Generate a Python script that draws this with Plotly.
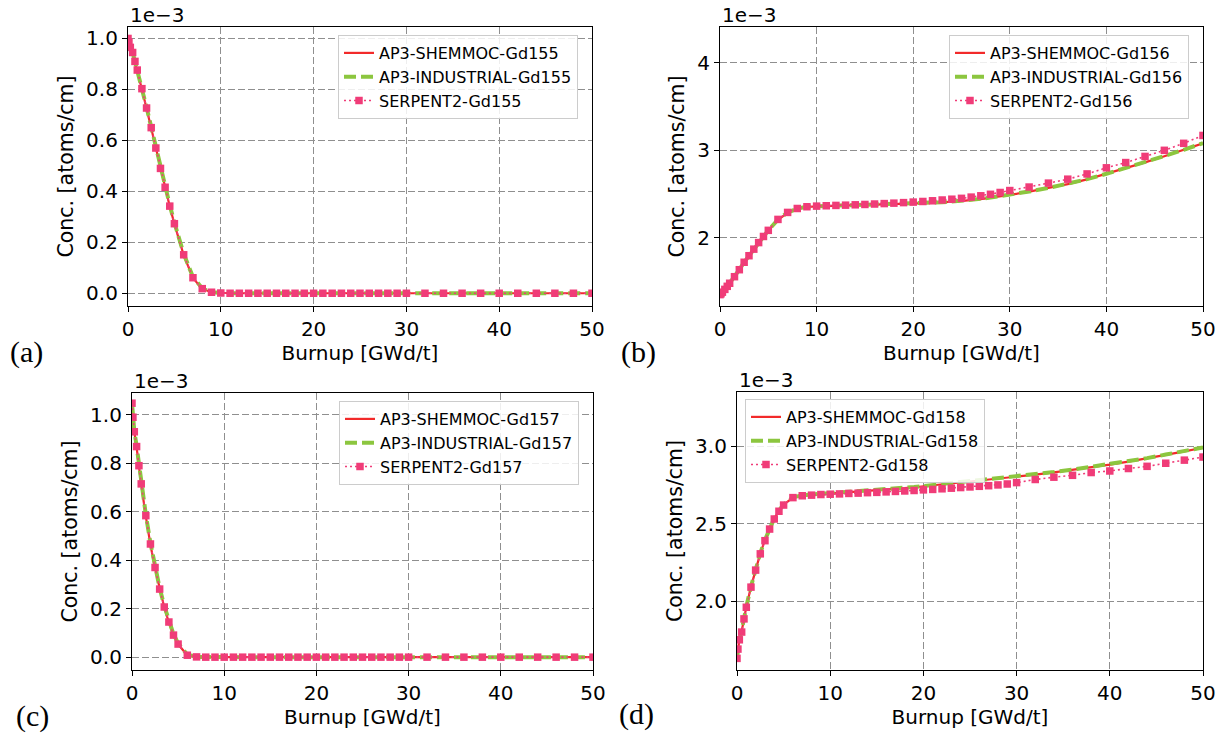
import plotly.graph_objects as go

W, H = 1228, 739

# Burnup steps [GWd/t]
burnup = [0, 0.1, 0.25, 0.5, 0.75, 1.0, 1.5, 2.0, 2.5, 3.0, 3.5, 4.0, 4.5, 5.0,
          6, 7, 8, 9, 10, 11, 12, 13, 14, 15, 16, 17, 18, 19, 20,
          21, 22, 23, 24, 25, 26, 27, 28, 29, 30,
          32, 34, 36, 38, 40, 42, 44, 46, 48, 50]

# Concentrations in units of 1e-3 atoms/cm
gd155_shemmoc = [1.000, 0.984, 0.963, 0.942, 0.908, 0.874, 0.801, 0.725, 0.648, 0.568, 0.489, 0.415,
                 0.341, 0.272, 0.150, 0.060, 0.017, 0.004, 0.001, 0, 0, 0, 0, 0, 0, 0, 0, 0, 0,
                 0, 0, 0, 0, 0, 0, 0, 0, 0, 0, 0, 0, 0, 0, 0, 0, 0, 0, 0, 0]
gd155_industrial = [1.000, 0.985, 0.965, 0.945, 0.911, 0.877, 0.805, 0.730, 0.653, 0.574, 0.494, 0.420,
                    0.346, 0.277, 0.155, 0.064, 0.019, 0.004, 0.001, 0, 0, 0, 0, 0, 0, 0, 0, 0, 0,
                    0, 0, 0, 0, 0, 0, 0, 0, 0, 0, 0, 0, 0, 0, 0, 0, 0, 0, 0, 0]
gd155_serpent = [1.000, 0.985, 0.965, 0.945, 0.910, 0.876, 0.803, 0.727, 0.650, 0.570, 0.490, 0.416,
                 0.342, 0.273, 0.151, 0.061, 0.018, 0.004, 0.001, 0, 0, 0, 0, 0, 0, 0, 0, 0, 0,
                 0, 0, 0, 0, 0, 0, 0, 0, 0, 0, 0, 0, 0, 0, 0, 0, 0, 0, 0, 0]

gd156_shemmoc = [1.350, 1.360, 1.377, 1.408, 1.443, 1.478, 1.553, 1.633, 1.718, 1.793, 1.868, 1.943,
                 2.013, 2.083, 2.205, 2.285, 2.332, 2.352, 2.358, 2.361, 2.363, 2.365, 2.367, 2.370,
                 2.373, 2.376, 2.380, 2.384, 2.388, 2.393, 2.399, 2.405, 2.412, 2.420, 2.430, 2.443,
                 2.457, 2.472, 2.490, 2.527, 2.568, 2.613, 2.668, 2.730, 2.795, 2.862, 2.932, 3.004, 3.080]
gd156_industrial = [1.350, 1.360, 1.378, 1.410, 1.445, 1.480, 1.555, 1.635, 1.720, 1.795, 1.870, 1.945,
                    2.015, 2.085, 2.208, 2.288, 2.334, 2.354, 2.360, 2.363, 2.365, 2.367, 2.369, 2.372,
                    2.375, 2.378, 2.382, 2.386, 2.390, 2.395, 2.401, 2.407, 2.414, 2.422, 2.432, 2.445,
                    2.459, 2.474, 2.492, 2.529, 2.570, 2.615, 2.670, 2.732, 2.797, 2.864, 2.934, 3.006, 3.082]
gd156_serpent = [1.350, 1.360, 1.378, 1.410, 1.445, 1.480, 1.555, 1.635, 1.720, 1.795, 1.870, 1.945,
                 2.015, 2.085, 2.210, 2.290, 2.335, 2.355, 2.362, 2.366, 2.370, 2.373, 2.377, 2.381,
                 2.386, 2.391, 2.396, 2.402, 2.408, 2.415, 2.423, 2.432, 2.441, 2.451, 2.465, 2.480,
                 2.497, 2.518, 2.540, 2.580, 2.625, 2.670, 2.730, 2.800, 2.860, 2.930, 3.000, 3.080, 3.170]

gd157_shemmoc = [1.048, 0.990, 0.930, 0.866, 0.787, 0.712, 0.581, 0.464, 0.367, 0.279, 0.205, 0.143,
                 0.090, 0.053, 0.008, 0.001, 0, 0, 0, 0, 0, 0, 0, 0, 0, 0, 0, 0, 0,
                 0, 0, 0, 0, 0, 0, 0, 0, 0, 0, 0, 0, 0, 0, 0, 0, 0, 0, 0, 0]
gd157_industrial = [1.048, 0.992, 0.933, 0.871, 0.793, 0.718, 0.588, 0.471, 0.374, 0.285, 0.211, 0.148,
                    0.095, 0.057, 0.010, 0.001, 0, 0, 0, 0, 0, 0, 0, 0, 0, 0, 0, 0, 0,
                    0, 0, 0, 0, 0, 0, 0, 0, 0, 0, 0, 0, 0, 0, 0, 0, 0, 0, 0, 0]
gd157_serpent = [1.048, 0.990, 0.930, 0.869, 0.790, 0.715, 0.584, 0.467, 0.370, 0.281, 0.207, 0.145,
                 0.091, 0.054, 0.008, 0.001, 0, 0, 0, 0, 0, 0, 0, 0, 0, 0, 0, 0, 0,
                 0, 0, 0, 0, 0, 0, 0, 0, 0, 0, 0, 0, 0, 0, 0, 0, 0, 0, 0, 0]

gd158_shemmoc = [1.630, 1.690, 1.750, 1.805, 1.888, 1.962, 2.092, 2.203, 2.308, 2.393, 2.468, 2.532,
                 2.582, 2.622, 2.668, 2.681, 2.686, 2.690, 2.693, 2.697, 2.701, 2.705, 2.709, 2.713,
                 2.718, 2.723, 2.729, 2.735, 2.741, 2.747, 2.753, 2.759, 2.765, 2.771, 2.777, 2.784,
                 2.790, 2.796, 2.802, 2.816, 2.831, 2.847, 2.864, 2.881, 2.901, 2.921, 2.944, 2.967, 2.990]
gd158_industrial = [1.630, 1.692, 1.752, 1.808, 1.890, 1.964, 2.094, 2.205, 2.310, 2.395, 2.470, 2.534,
                    2.584, 2.624, 2.670, 2.683, 2.688, 2.692, 2.695, 2.699, 2.703, 2.707, 2.711, 2.715,
                    2.720, 2.725, 2.731, 2.737, 2.743, 2.749, 2.755, 2.761, 2.767, 2.773, 2.779, 2.786,
                    2.792, 2.798, 2.804, 2.818, 2.833, 2.849, 2.866, 2.883, 2.903, 2.923, 2.946, 2.969, 2.992]
gd158_serpent = [1.630, 1.690, 1.750, 1.800, 1.885, 1.960, 2.090, 2.200, 2.305, 2.390, 2.465, 2.530,
                 2.580, 2.620, 2.668, 2.680, 2.684, 2.688, 2.690, 2.692, 2.695, 2.697, 2.700, 2.702,
                 2.705, 2.708, 2.711, 2.714, 2.718, 2.721, 2.725, 2.729, 2.733, 2.737, 2.741, 2.745,
                 2.750, 2.756, 2.765, 2.785, 2.800, 2.812, 2.830, 2.840, 2.856, 2.870, 2.890, 2.910, 2.930]

x_ticks = [0, 10, 20, 30, 40, 50]

panels = [
    dict(iso="Gd155", data=(gd155_shemmoc, gd155_industrial, gd155_serpent), label="(a)",
         px=(128, 592), py=(27, 306), yrange=[-0.05, 1.045], yticks=[0.0, 0.2, 0.4, 0.6, 0.8, 1.0], fmt=".1f",
         leg=(338, 35), lab=(8, 352)),
    dict(iso="Gd156", data=(gd156_shemmoc, gd156_industrial, gd156_serpent), label="(b)",
         px=(720, 1203), py=(27, 306), yrange=[1.22, 4.41], yticks=[2, 3, 4], fmt="d",
         leg=(949, 35), lab=(619, 352)),
    dict(iso="Gd157", data=(gd157_shemmoc, gd157_industrial, gd157_serpent), label="(c)",
         px=(132, 593), py=(393, 670), yrange=[-0.053, 1.09], yticks=[0.0, 0.2, 0.4, 0.6, 0.8, 1.0], fmt=".1f",
         leg=(339, 401), lab=(14, 716)),
    dict(iso="Gd158", data=(gd158_shemmoc, gd158_industrial, gd158_serpent), label="(d)",
         px=(737, 1203), py=(392, 670), yrange=[1.555, 3.35], yticks=[2.0, 2.5, 3.0], fmt=".1f",
         leg=(745, 399), lab=(617, 714)),
]

RED = "#f22a2a"
GREEN = "#8cc63f"
PINK = "#f03c78"
FONT = "DejaVu Sans"

fig = go.Figure()
layout = dict(width=W, height=H, margin=dict(l=0, r=0, t=0, b=0), autosize=False,
              paper_bgcolor="white", plot_bgcolor="white", template="none",
              font=dict(family=FONT, color="black"), showlegend=True)
annotations = []

for i, p in enumerate(panels):
    n = "" if i == 0 else str(i + 1)
    xa, ya = "x" + n, "y" + n
    legname = "legend" + n
    sh, ind, ser = p["data"]
    fig.add_trace(go.Scatter(x=burnup, y=sh, mode="lines", name="AP3-SHEMMOC-" + p["iso"],
                             line=dict(color=RED, width=2.2), xaxis=xa, yaxis=ya, legend=legname))
    fig.add_trace(go.Scatter(x=burnup, y=ind, mode="lines", name="AP3-INDUSTRIAL-" + p["iso"],
                             line=dict(color=GREEN, width=4, dash="12px,5px"), xaxis=xa, yaxis=ya, legend=legname))
    fig.add_trace(go.Scatter(x=burnup, y=ser, mode="lines+markers", name="SERPENT2-" + p["iso"],
                             line=dict(color=PINK, width=1.6, dash="2px,3px"),
                             marker=dict(symbol="square", size=7.5, color=PINK),
                             xaxis=xa, yaxis=ya, legend=legname))

    axis_common = dict(showline=True, linecolor="black", linewidth=1.2, mirror=True,
                       ticks="outside", ticklen=5, tickwidth=1.2, tickcolor="black",
                       showgrid=True, gridcolor="#8f8f8f", gridwidth=1, griddash="7px,3px",
                       zeroline=False, tickfont=dict(family=FONT, size=20, color="black"))
    layout["xaxis" + n] = dict(axis_common, domain=[p["px"][0] / W, p["px"][1] / W], anchor=ya,
                               range=[0, 50], tickmode="array", tickvals=x_ticks,
                               title=dict(text="Burnup [GWd/t]", font=dict(family=FONT, size=20), standoff=4))
    layout["yaxis" + n] = dict(axis_common, domain=[1 - p["py"][1] / H, 1 - p["py"][0] / H], anchor=xa,
                               range=p["yrange"], tickmode="array", tickvals=p["yticks"], tickformat=p["fmt"],
                               title=dict(text="Conc. [atoms/cm]", font=dict(family=FONT, size=20.5), standoff=6))
    layout[legname] = dict(x=p["leg"][0] / W, y=1 - p["leg"][1] / H, xanchor="left", yanchor="top",
                           bgcolor="rgba(255,255,255,0.85)", bordercolor="#cccccc", borderwidth=1,
                           font=dict(family=FONT, size=16, color="black"), tracegroupgap=0)
    # offset text
    annotations.append(dict(text="1e\u22123", xref="paper", yref="paper", x=p["px"][0] / W,
                            y=1 - (p["py"][0] - 12) / H, xanchor="left", yanchor="middle",
                            showarrow=False, font=dict(family=FONT, size=20, color="black")))
    # panel label
    annotations.append(dict(text=p["label"], xref="paper", yref="paper", x=p["lab"][0] / W,
                            y=1 - p["lab"][1] / H, xanchor="left", yanchor="middle",
                            showarrow=False, font=dict(family="Liberation Serif", size=30, color="black")))

layout["annotations"] = annotations
fig.update_layout(**layout)
fig.write_html("out.html")
